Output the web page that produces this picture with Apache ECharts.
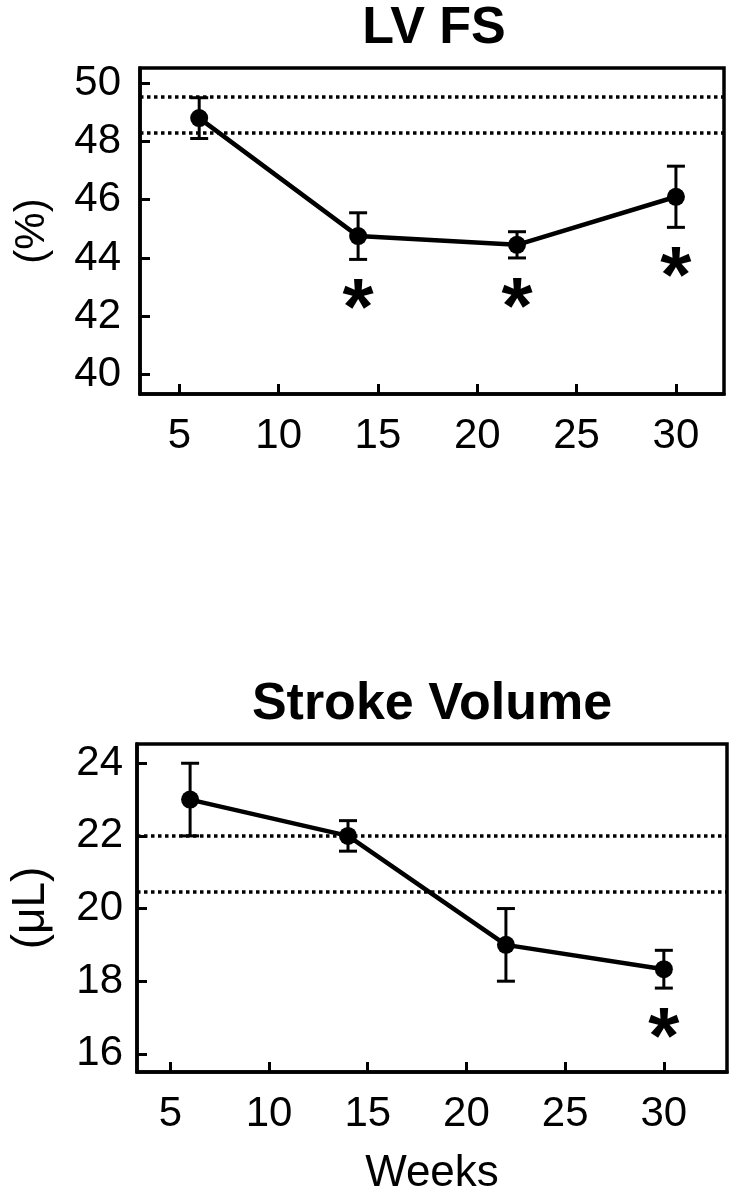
<!DOCTYPE html>
<html>
<head>
<meta charset="utf-8">
<script src="https://cdn.jsdelivr.net/npm/echarts@6/dist/echarts.min.js"></script>
<style>
  html, body { margin: 0; padding: 0; background: #fff; }
  #chart { width: 739px; height: 1199px; }
</style>
</head>
<body>
<div id="chart"></div>
<script>
// weeks of age at each measurement
var weeks = [6, 14, 22, 30];
var weekTicks = [5, 10, 15, 20, 25, 30];

// LV fractional shortening (%)
var fsMean = [48.8, 44.75, 44.45, 46.1];
var fsErr = [0.7, 0.8, 0.45, 1.05];
var fsNormal = [48.3, 49.55];      // dotted normal range
var fsSig = [14, 22, 30];          // weeks marked with *
var fsTicks = [40, 42, 44, 46, 48, 50];

// stroke volume (uL)
var svMean = [23.0, 22.0, 19.0, 18.33];
var svErr = [1.0, 0.42, 1.0, 0.52];
var svNormal = [20.45, 22.0];
var svSig = [30];
var svTicks = [16, 18, 20, 22, 24];

var FONT = '"Liberation Sans", Arial, Helvetica, sans-serif';

function pairs(xs, ys) {
    return xs.map(function (x, i) { return [x, ys[i]]; });
}
function errData(mean, err) {
    return weeks.map(function (w, i) { return [w, mean[i] - err[i], mean[i] + err[i]]; });
}
function sigData(sig, mean, err) {
    return sig.map(function (w) {
        var i = weeks.indexOf(w);
        return [w, mean[i] - err[i]];
    });
}

// vertical bar with caps
function renderErr(params, api) {
    var lo = api.coord([api.value(0), api.value(1)]);
    var hi = api.coord([api.value(0), api.value(2)]);
    var cap = 9;
    var st = { stroke: '#000', lineWidth: 3 };
    return {
        type: 'group',
        children: [
            { type: 'line', shape: { x1: lo[0], y1: lo[1], x2: hi[0], y2: hi[1] }, style: st },
            { type: 'line', shape: { x1: lo[0] - cap, y1: lo[1], x2: lo[0] + cap, y2: lo[1] }, style: st },
            { type: 'line', shape: { x1: hi[0] - cap, y1: hi[1], x2: hi[0] + cap, y2: hi[1] }, style: st }
        ]
    };
}

// asterisk under the lower error cap
function renderSig(params, api) {
    var p = api.coord([api.value(0), api.value(1)]);
    return {
        type: 'text',
        x: p[0],
        y: p[1] + 53,
        style: {
            text: '*',
            fill: '#000',
            fontSize: 80,
            fontWeight: 'bold',
            fontFamily: FONT,
            align: 'center',
            verticalAlign: 'middle'
        }
    };
}

function xAxisOf(gridIndex, min, max, name) {
    return {
        type: 'value', gridIndex: gridIndex, min: min, max: max,
        name: name, nameLocation: 'middle', nameGap: 80,
        nameTextStyle: { fontSize: 44, color: '#000', fontFamily: FONT },
        splitLine: { show: false },
        axisLine: { lineStyle: { color: '#000', width: 3.5 } },
        axisTick: { inside: true, length: 10, lineStyle: { color: '#000', width: 3 }, customValues: weekTicks },
        axisLabel: { color: '#000', fontSize: 42, margin: 21, fontFamily: FONT, customValues: weekTicks }
    };
}

function yAxisOf(gridIndex, min, max, ticks, name, margin, nameSize, nameGap) {
    return {
        type: 'value', gridIndex: gridIndex, min: min, max: max,
        name: name, nameLocation: 'middle', nameGap: nameGap, nameRotate: 90,
        nameTextStyle: { fontSize: nameSize, color: '#000', fontFamily: FONT },
        splitLine: { show: false },
        axisLine: { show: true, lineStyle: { color: '#000', width: 3.5 } },
        axisTick: { show: true, inside: true, length: 10, lineStyle: { color: '#000', width: 3 }, customValues: ticks },
        axisLabel: { color: '#000', fontSize: 42, margin: margin, fontFamily: FONT, customValues: ticks }
    };
}

function normalLines(vals) {
    return {
        silent: true,
        symbol: 'none',
        label: { show: false },
        lineStyle: { color: '#000', width: 3.5, type: [3.5, 3.5] },
        data: vals.map(function (v) { return { yAxis: v }; })
    };
}

var chart = echarts.init(document.getElementById('chart'));
chart.setOption({
    animation: false,
    backgroundColor: '#fff',
    textStyle: { fontFamily: FONT },
    title: [
        { text: 'LV FS', left: 434, top: 3, textAlign: 'center', padding: 0,
          textStyle: { fontSize: 52, fontWeight: 'bold', color: '#000', fontFamily: FONT } },
        { text: 'Stroke Volume', left: 432, top: 679, textAlign: 'center', padding: 0,
          textStyle: { fontSize: 52, fontWeight: 'bold', color: '#000', fontFamily: FONT } }
    ],
    grid: [
        { left: 140, top: 68, width: 584, height: 326, show: true, borderColor: '#000', borderWidth: 3.5,
          containLabel: false, outerBoundsMode: 'none' },
        { left: 137, top: 744, width: 590, height: 328, show: true, borderColor: '#000', borderWidth: 3.5,
          containLabel: false, outerBoundsMode: 'none' }
    ],
    xAxis: [
        xAxisOf(0, 3.02, 32.42, ''),
        xAxisOf(1, 3.31, 33.2, 'Weeks')
    ],
    yAxis: [
        yAxisOf(0, 39.33, 50.52, fsTicks, '(%)', 19, 42, 87),
        yAxisOf(1, 15.5, 24.53, svTicks, '(\u03BCL)', 14, 46, 83)
    ],
    series: [
        {
            type: 'line', xAxisIndex: 0, yAxisIndex: 0, data: pairs(weeks, fsMean),
            symbol: 'circle', symbolSize: 18, itemStyle: { color: '#000' },
            lineStyle: { color: '#000', width: 4.5 }, z: 3,
            markLine: normalLines(fsNormal)
        },
        { type: 'custom', xAxisIndex: 0, yAxisIndex: 0, data: errData(fsMean, fsErr), renderItem: renderErr, z: 4 },
        { type: 'custom', xAxisIndex: 0, yAxisIndex: 0, data: sigData(fsSig, fsMean, fsErr), renderItem: renderSig, z: 4 },
        {
            type: 'line', xAxisIndex: 1, yAxisIndex: 1, data: pairs(weeks, svMean),
            symbol: 'circle', symbolSize: 18, itemStyle: { color: '#000' },
            lineStyle: { color: '#000', width: 4.5 }, z: 3,
            markLine: normalLines(svNormal)
        },
        { type: 'custom', xAxisIndex: 1, yAxisIndex: 1, data: errData(svMean, svErr), renderItem: renderErr, z: 4 },
        { type: 'custom', xAxisIndex: 1, yAxisIndex: 1, data: sigData(svSig, svMean, svErr), renderItem: renderSig, z: 4 }
    ]
});
</script>
</body>
</html>
